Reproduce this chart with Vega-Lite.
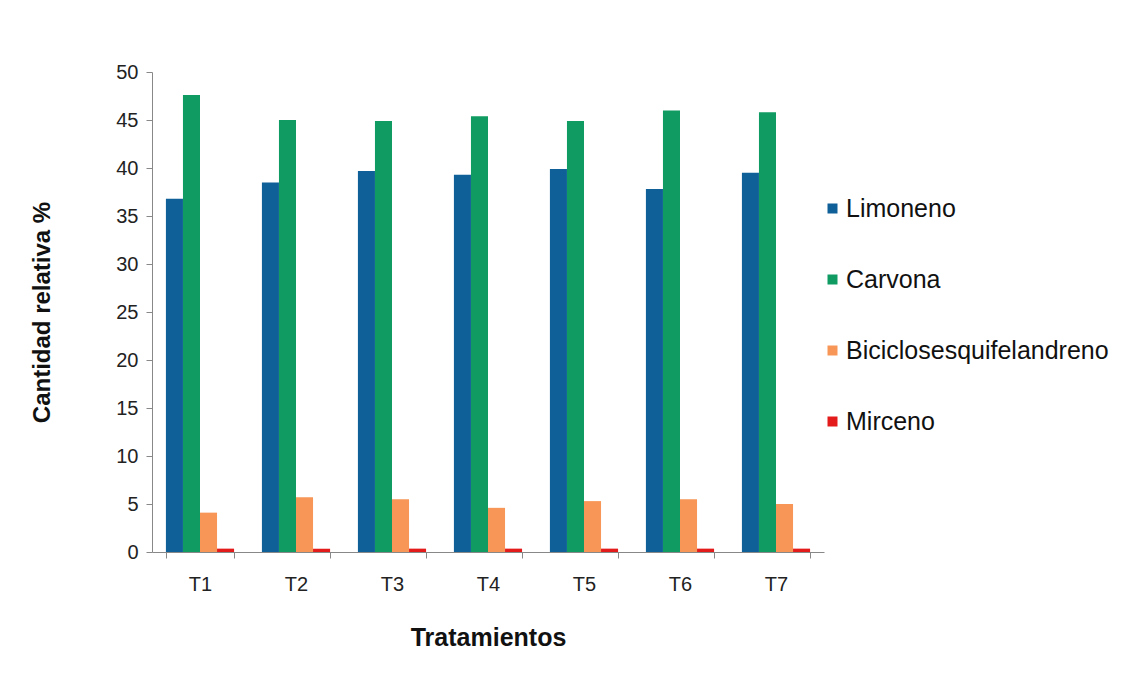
{
  "$schema": "https://vega.github.io/schema/vega-lite/v6.json",
  "width": 672,
  "height": 480,
  "autosize": "none",
  "padding": {"left": 152, "top": 72, "right": 297, "bottom": 140},
  "background": "white",
  "config": {
    "font": "Liberation Sans",
    "view": {"stroke": null}
  },
  "data": {
    "values": [
      {"t": "T1", "c": "Limoneno", "v": 36.8},
      {"t": "T1", "c": "Carvona", "v": 47.6},
      {"t": "T1", "c": "Biciclosesquifelandreno", "v": 4.1},
      {"t": "T1", "c": "Mirceno", "v": 0.35},
      {"t": "T2", "c": "Limoneno", "v": 38.5},
      {"t": "T2", "c": "Carvona", "v": 45.0},
      {"t": "T2", "c": "Biciclosesquifelandreno", "v": 5.7},
      {"t": "T2", "c": "Mirceno", "v": 0.35},
      {"t": "T3", "c": "Limoneno", "v": 39.7},
      {"t": "T3", "c": "Carvona", "v": 44.9},
      {"t": "T3", "c": "Biciclosesquifelandreno", "v": 5.5},
      {"t": "T3", "c": "Mirceno", "v": 0.35},
      {"t": "T4", "c": "Limoneno", "v": 39.3},
      {"t": "T4", "c": "Carvona", "v": 45.4},
      {"t": "T4", "c": "Biciclosesquifelandreno", "v": 4.6},
      {"t": "T4", "c": "Mirceno", "v": 0.35},
      {"t": "T5", "c": "Limoneno", "v": 39.9},
      {"t": "T5", "c": "Carvona", "v": 44.9},
      {"t": "T5", "c": "Biciclosesquifelandreno", "v": 5.3},
      {"t": "T5", "c": "Mirceno", "v": 0.35},
      {"t": "T6", "c": "Limoneno", "v": 37.8},
      {"t": "T6", "c": "Carvona", "v": 46.0},
      {"t": "T6", "c": "Biciclosesquifelandreno", "v": 5.5},
      {"t": "T6", "c": "Mirceno", "v": 0.35},
      {"t": "T7", "c": "Limoneno", "v": 39.5},
      {"t": "T7", "c": "Carvona", "v": 45.8},
      {"t": "T7", "c": "Biciclosesquifelandreno", "v": 5.0},
      {"t": "T7", "c": "Mirceno", "v": 0.35}
    ]
  },
  "mark": {"type": "bar"},
  "encoding": {
    "x": {
      "field": "t",
      "type": "nominal",
      "title": "Tratamientos",
      "scale": {"paddingInner": 0.29, "paddingOuter": 0.145},
      "axis": {
        "labelAngle": 0,
        "labelFontSize": 20,
        "labelColor": "#222222",
        "labelPadding": 16,
        "tickBand": "extent",
        "tickSize": 6,
        "tickColor": "#888888",
        "domainColor": "#888888",
        "titleFontSize": 25,
        "titleFontWeight": "bold",
        "titleColor": "#111111",
        "titlePadding": 31
      }
    },
    "xOffset": {
      "field": "c",
      "type": "nominal",
      "sort": ["Limoneno", "Carvona", "Biciclosesquifelandreno", "Mirceno"],
      "scale": {"paddingInner": 0, "paddingOuter": 0}
    },
    "y": {
      "field": "v",
      "type": "quantitative",
      "title": "Cantidad relativa %",
      "scale": {"domain": [0, 50]},
      "axis": {
        "values": [0, 5, 10, 15, 20, 25, 30, 35, 40, 45, 50],
        "grid": false,
        "labelFontSize": 20,
        "labelColor": "#222222",
        "labelPadding": 8,
        "tickSize": 6,
        "tickColor": "#888888",
        "domainColor": "#888888",
        "titleFontSize": 24,
        "titleFontWeight": "bold",
        "titleColor": "#111111",
        "titlePadding": 61
      }
    },
    "color": {
      "field": "c",
      "type": "nominal",
      "sort": ["Limoneno", "Carvona", "Biciclosesquifelandreno", "Mirceno"],
      "scale": {
        "domain": ["Limoneno", "Carvona", "Biciclosesquifelandreno", "Mirceno"],
        "range": ["#0f5f98", "#0f9b62", "#f79656", "#e31b1b"]
      },
      "legend": {
        "title": null,
        "orient": "none",
        "legendX": 668,
        "legendY": 124,
        "symbolType": "square",
        "symbolSize": 100,
        "symbolStrokeWidth": 0,
        "labelFontSize": 25,
        "labelColor": "#111111",
        "labelOffset": 1,
        "rowPadding": 45,
        "labelLimit": 400
      }
    }
  }
}
